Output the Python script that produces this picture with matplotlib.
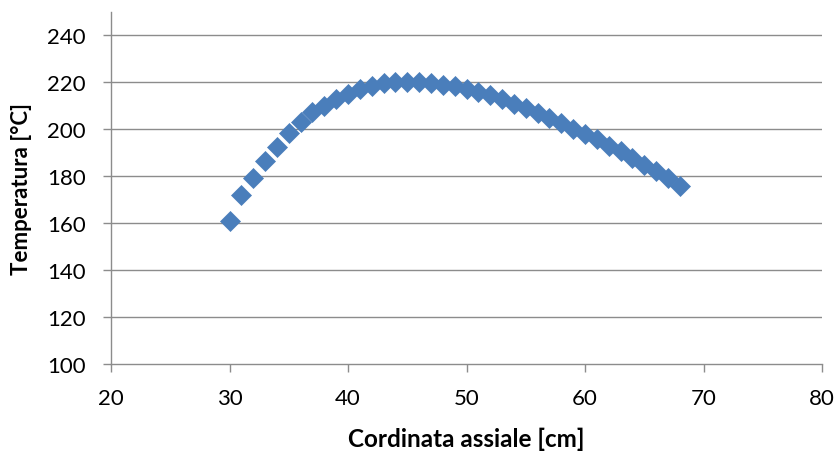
import matplotlib
matplotlib.use("Agg")
import matplotlib.pyplot as plt

x_cm = list(range(30, 69))
temp_c = [161.1, 172.2, 179.3, 186.5, 192.6, 198.4, 203.0, 207.2, 210.0, 212.9,
          215.0, 217.1, 218.6, 219.7, 220.0, 220.3, 220.1, 219.7, 219.0, 218.3,
          217.4, 216.1, 214.5, 212.9, 211.0, 209.3, 207.1, 205.0, 202.9, 200.0,
          197.9, 195.7, 193.1, 190.7, 187.9, 184.6, 182.1, 179.3, 176.0]
x_ticks = [20, 30, 40, 50, 60, 70, 80]
y_ticks = [100, 120, 140, 160, 180, 200, 220, 240]

plt.rcParams['font.family'] = ['Lato', 'DejaVu Sans']

fig = plt.figure(figsize=(8.36, 4.52), dpi=100)
ax = fig.add_axes([111/836, 1-365/452, (822-111)/836, (365-13)/452])

grid_c = '#8c8c8c'
for y in y_ticks[1:]:
    ax.axhline(y, color=grid_c, lw=1.0, zorder=1)

ax.plot(x_cm, temp_c, linestyle='none', marker='D', markersize=10,
        color='#4a7ebb', markeredgecolor='#4a7ebb', markeredgewidth=0.5, zorder=3)

ax.set_xlim(20, 80)
ax.set_ylim(100, 250)
ax.set_xticks(x_ticks)
ax.set_yticks(y_ticks)
ax.set_xticklabels([str(v) for v in x_ticks])
ax.set_yticklabels([str(v) for v in y_ticks])

for s in ['top', 'right']:
    ax.spines[s].set_visible(False)
for s in ['left', 'bottom']:
    ax.spines[s].set_color(grid_c)
    ax.spines[s].set_linewidth(1.0)

ax.tick_params(axis='both', direction='out', length=6, width=1.0, color=grid_c,
               labelsize=16, labelcolor='black')
ax.tick_params(axis='x', pad=11)
ax.tick_params(axis='y', pad=12)

ax.set_xlabel('Cordinata assiale [cm]', fontsize=17.5, fontweight='bold')
ax.set_ylabel('Temperatura [°C]', fontsize=16, fontweight='bold')
ax.xaxis.set_label_coords(0.5, -(439-365)/352, transform=ax.transAxes)
ax.xaxis.label.set_va('center')
ax.yaxis.set_label_coords(-(111-22)/711, 0.5, transform=ax.transAxes)
ax.yaxis.label.set_va('center')

fig.savefig('out.png', dpi=100)
